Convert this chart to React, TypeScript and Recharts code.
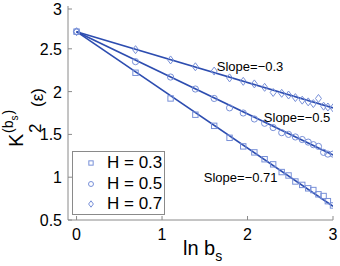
import { ComposedChart, Legend, Line, ReferenceDot, Scatter, XAxis, YAxis } from "recharts";

const lnB = [0, 0.69, 1.1, 1.39, 1.61, 1.79, 1.95, 2.08, 2.2, 2.3, 2.4, 2.48, 2.56, 2.64, 2.71, 2.77, 2.83, 2.89, 2.94, 3.0];
const kH03 = [2.7, 2.22, 1.92, 1.73, 1.6, 1.46, 1.36, 1.29, 1.21, 1.15, 1.06, 1.02, 0.95, 0.91, 0.87, 0.85, 0.8, 0.78, 0.72, 0.67];
const kH05 = [2.7, 2.35, 2.17, 2.03, 1.92, 1.81, 1.75, 1.68, 1.63, 1.58, 1.52, 1.5, 1.47, 1.44, 1.41, 1.38, 1.36, 1.29, 1.27, 1.27];
const kH07 = [2.7, 2.49, 2.37, 2.29, 2.24, 2.16, 2.12, 2.09, 2.05, 1.99, 1.98, 1.96, 1.93, 1.9, 1.88, 1.86, 1.92, 1.83, 1.82, 1.81];

const fitX = [0, 3];
const fitH03 = [2.7, 0.66];
const fitH05 = [2.7, 1.26];
const fitH07 = [2.7, 1.81];

const xTicks = [0, 1, 2, 3];
const yTicks = [0.5, 1, 1.5, 2, 2.5, 3];

const slopeLabels = [
  { x: 2.03, y: 2.3, text: "Slope=\u22120.3" },
  { x: 2.58, y: 1.7, text: "Slope=\u22120.5" },
  { x: 1.92, y: 1.0, text: "Slope=\u22120.71" },
];

const FONT = "'Liberation Sans', Arial, sans-serif";
const AXIS = "#8a8a8a";
const LINE = "#2d4db0";
const MARK = "#7890d8";

const toPts = (ys: number[]) => lnB.map((x, i) => ({ x, y: ys[i] }));
const toFit = (ys: number[]) => fitX.map((x, i) => ({ x, y: ys[i] }));

type Kind = "square" | "circle" | "diamond";

const marker = (kind: Kind, cx: number, cy: number, s = 1) => {
  if (kind === "square")
    return <rect x={cx - 2.7 * s} y={cy - 2.7 * s} width={5.4 * s} height={5.4 * s} fill="none" stroke={MARK} strokeWidth={1} />;
  if (kind === "circle") return <circle cx={cx} cy={cy} r={3.1 * s} fill="none" stroke={MARK} strokeWidth={1} />;
  return (
    <polygon
      points={`${cx},${cy - 4 * s} ${cx + 3 * s},${cy} ${cx},${cy + 4 * s} ${cx - 3 * s},${cy}`}
      fill="none"
      stroke={MARK}
      strokeWidth={1}
    />
  );
};

const series: { name: string; kind: Kind; pts: number[]; fit: number[] }[] = [
  { name: "H = 0.3", kind: "square", pts: kH03, fit: fitH03 },
  { name: "H = 0.5", kind: "circle", pts: kH05, fit: fitH05 },
  { name: "H = 0.7", kind: "diamond", pts: kH07, fit: fitH07 },
];

const BottomTick = ({ x, y, payload }: any) => (
  <g>
    <line x1={x} x2={x} y1={y} y2={y - 4} stroke={AXIS} />
    <text x={x} y={y + 20} textAnchor="middle" fontSize={16} fontFamily={FONT} fill="#000">
      {payload.value}
    </text>
  </g>
);

const TopTick = ({ x, y }: any) => <line x1={x} x2={x} y1={y} y2={y + 4} stroke={AXIS} />;

const LeftTick = ({ x, y, payload }: any) => (
  <g>
    <line x1={x} x2={x + 4} y1={y} y2={y} stroke={AXIS} />
    <text x={x - 6} y={y + 6} textAnchor="end" fontSize={16} fontFamily={FONT} fill="#000">
      {payload.value}
    </text>
  </g>
);

const RightTick = ({ x, y }: any) => <line x1={x} x2={x - 4} y1={y} y2={y} stroke={AXIS} />;

const LegendBox = () => (
  <div
    style={{
      width: 93,
      height: 64,
      border: `1px solid ${AXIS}`,
      background: "#fff",
      fontFamily: FONT,
      fontSize: 17,
      boxSizing: "border-box",
      paddingTop: 1,
    }}
  >
    {series.map((s) => (
      <div key={s.name} style={{ display: "flex", alignItems: "center", height: 20.5 }}>
        <svg width={34} height={20}>
          {marker(s.kind, 18, 10, 0.8)}
        </svg>
        <span style={{ lineHeight: "20px" }}>{s.name}</span>
      </div>
    ))}
  </div>
);

const App = () => {
  return (
    <div style={{ position: "absolute", left: 0, top: 0, width: 340, height: 266, background: "#fff" }}>
      <ComposedChart width={340} height={266} margin={{ top: 6, right: 7, bottom: 0, left: 8 }}>
        <XAxis
          xAxisId="b"
          type="number"
          dataKey="x"
          domain={[-0.1, 3]}
          ticks={xTicks}
          allowDataOverflow
          height={46}
          stroke={AXIS}
          tickSize={0}
          tickMargin={0}
          tick={<BottomTick />}
        />
        <XAxis
          xAxisId="t"
          orientation="top"
          type="number"
          dataKey="x"
          domain={[-0.1, 3]}
          ticks={xTicks}
          allowDataOverflow
          height={0}
          stroke={AXIS}
          tickSize={0}
          tickMargin={0}
          tick={<TopTick />}
        />
        <YAxis
          yAxisId="l"
          type="number"
          domain={[0.5, 3]}
          ticks={yTicks}
          allowDataOverflow
          width={60}
          stroke={AXIS}
          tickSize={0}
          tickMargin={0}
          tick={<LeftTick />}
        />
        <YAxis
          yAxisId="r"
          orientation="right"
          type="number"
          domain={[0.5, 3]}
          ticks={yTicks}
          allowDataOverflow
          width={0}
          stroke={AXIS}
          tickSize={0}
          tickMargin={0}
          tick={<RightTick />}
        />
        {series.map((s) => (
          <Line
            key={`fit-${s.name}`}
            xAxisId="b"
            yAxisId="l"
            data={toFit(s.fit)}
            dataKey="y"
            stroke={LINE}
            strokeWidth={1.6}
            dot={false}
            legendType="none"
            isAnimationActive={false}
          />
        ))}
        {series.map((s) => (
          <Scatter
            key={`pts-${s.name}`}
            name={s.name}
            xAxisId="b"
            yAxisId="l"
            data={toPts(s.pts)}
            dataKey="y"
            shape={(p: any) => marker(s.kind, p.cx, p.cy)}
            isAnimationActive={false}
          />
        ))}
        {slopeLabels.map((l) => (
          <ReferenceDot
            key={l.text}
            xAxisId="b"
            yAxisId="l"
            x={l.x}
            y={l.y}
            r={0}
            fill="none"
            stroke="none"
            label={{ value: l.text, position: "center", fontSize: 13, fill: "#000", fontFamily: FONT }}
          />
        ))}
        <Legend
          layout="horizontal"
          verticalAlign="middle"
          align="center"
          wrapperStyle={{ left: 72, top: 151, width: 93, height: 64 }}
          content={<LegendBox />}
        />
      </ComposedChart>
      <svg width={340} height={266} style={{ position: "absolute", left: 0, top: 0, pointerEvents: "none" }}>
        <g transform="rotate(-90)" fontFamily={FONT} fill="#000">
          <text x={-147} y={23} fontSize={20}>K</text>
          <text x={-133} y={41} fontSize={17}>2</text>
          <text x={-133} y={13} fontSize={14}>(b</text>
          <text x={-120.5} y={18} fontSize={10}>s</text>
          <text x={-114.5} y={13} fontSize={14}>)</text>
          <text x={-107} y={43} fontSize={17}>(ε)</text>
        </g>
        <text x={183} y={255} fontSize={20} fontFamily={FONT} fill="#000">
          ln b
          <tspan fontSize={14} dy={6}>s</tspan>
        </text>
      </svg>
    </div>
  );
};

export default App;
